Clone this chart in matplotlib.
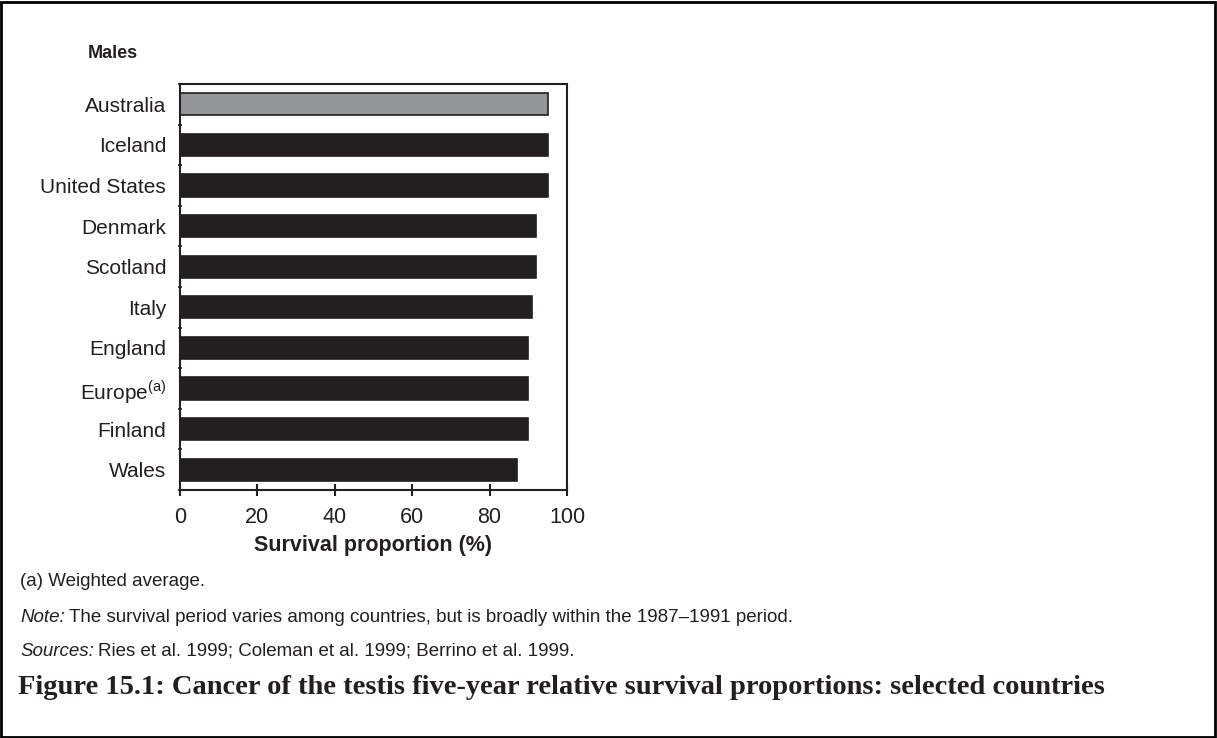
import matplotlib
matplotlib.use("Agg")
import matplotlib.pyplot as plt
from matplotlib.patches import Rectangle
from matplotlib.ticker import FixedLocator

plt.rcParams['font.family'] = ['Liberation Sans', 'DejaVu Sans']
plt.rcParams['mathtext.fontset'] = 'custom'
plt.rcParams['mathtext.rm'] = 'Liberation Sans'

countries = ["Australia", "Iceland", "United States", "Denmark", "Scotland",
             "Italy", "England", r"Europe$^{\mathrm{(a)}}$", "Finland", "Wales"]
survival = [95, 95, 95, 92, 92, 91, 90, 90, 90, 87]
colors = ["#939598"] + ["#231f20"] * 9
xticks = [0, 20, 40, 60, 80, 100]

W, H = 1217, 738
fig = plt.figure(figsize=(W / 100, H / 100), dpi=100)
ax = fig.add_axes([180 / W, 1 - 490 / H, 387 / W, 406 / H])

n = len(countries)
ypos = list(range(n))
ax.barh(ypos, survival, height=0.55, color=colors, edgecolor="#231f20", linewidth=1.2)
ax.set_xlim(0, 100)
ax.set_ylim(n - 0.5, -0.5)
ax.set_yticks(ypos)
ax.set_yticklabels(countries, fontsize=15, color='#231f20')
ax.yaxis.set_minor_locator(FixedLocator([i - 0.5 for i in range(n + 1)]))
ax.tick_params(axis='y', which='major', length=0, pad=10)
ax.tick_params(axis='y', which='minor', length=3, width=1.2, direction='inout', color='#231f20')
ax.set_xticks(xticks)
ax.set_xticklabels([str(v) for v in xticks], fontsize=15.5, color='#231f20')
ax.tick_params(axis='x', which='major', length=9, width=1.5, direction='inout', color='#231f20', pad=8)
for s in ax.spines.values():
    s.set_linewidth(1.5)
    s.set_color('#231f20')
ax.set_xlabel("Survival proportion (%)", fontsize=15.5, fontweight='bold', labelpad=5, color='#231f20')

fig.text(88 / W, 1 - 53 / H, "Males", fontsize=13, fontweight='bold', va='center', ha='left', color='#231f20')

renderer = fig.canvas.get_renderer()


def two_part(x, y, italic, rest, size):
    t = fig.text(x / W, 1 - y / H, italic, fontsize=size, style='italic', va='center', color='#231f20')
    bb = t.get_window_extent(renderer)
    fig.text(bb.x1 / W + 4 / W, 1 - y / H, rest, fontsize=size, va='center', color='#231f20')


fn = 13.5
fx = 20
fig.text(fx / W, 1 - 582 / H, "(a) Weighted average.", fontsize=fn, va='center', color='#231f20')
two_part(fx, 617, "Note:", "The survival period varies among countries, but is broadly within the 1987\u20131991 period.", fn)
two_part(fx, 651, "Sources:", "Ries et al. 1999; Coleman et al. 1999; Berrino et al. 1999.", fn)

title = fig.text(18 / W, 1 - 688 / H,
                 "Figure 15.1: Cancer of the testis five-year relative survival proportions: selected countries",
                 fontsize=16, fontweight='bold', family=['Liberation Serif', 'DejaVu Serif'],
                 va='center', color='#231f20')
tw = title.get_window_extent(renderer).width
title.set_fontsize(16 * 1090 / tw)

fig.patches.append(Rectangle((1 / W, 1 / H), 1 - 3 / W, 1 - 3 / H, transform=fig.transFigure,
                             fill=False, edgecolor='black', linewidth=2))

fig.savefig("out.png", dpi=100)
